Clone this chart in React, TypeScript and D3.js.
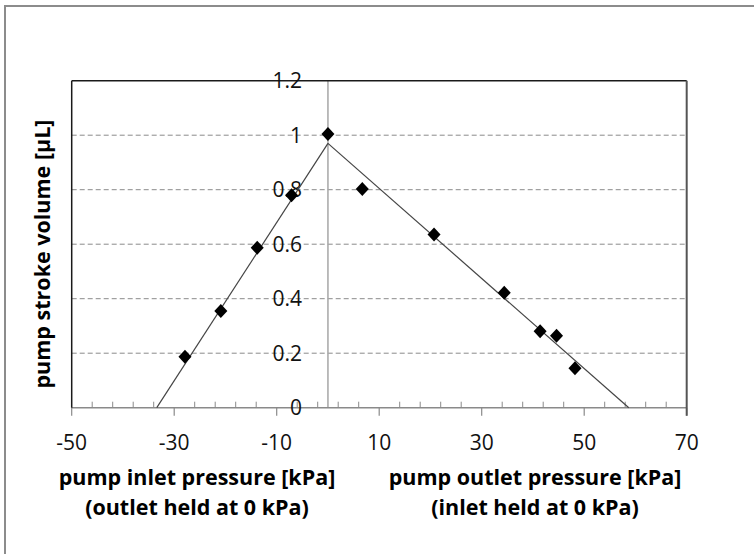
import React from "react";
import * as d3 from "d3";

const inletX = [-27.9, -20.9, -13.8, -7.1, 0];
const inletY = [0.187, 0.355, 0.587, 0.78, 1.004];
const outletX = [6.7, 20.7, 34.4, 41.4, 44.6, 48.2];
const outletY = [0.803, 0.636, 0.422, 0.281, 0.264, 0.145];
const trendInlet: [number, number][] = [[-33.4, 0], [0, 0.97]];
const trendOutlet: [number, number][] = [[0, 0.97], [58.7, 0]];
const xMajorTicks = [-50, -30, -10, 10, 30, 50, 70];
const yTicks = [0, 0.2, 0.4, 0.6, 0.8, 1, 1.2];
const yTickLabels = ["0", "0.2", "0.4", "0.6", "0.8", "1", "1.2"];
const xTitleLeft = ["pump inlet pressure [kPa]", "(outlet held at 0 kPa)"];
const xTitleRight = ["pump outlet pressure [kPa]", "(inlet held at 0 kPa)"];
const yTitle = "pump stroke volume [µL]";

const W = 754, H = 554;
const L = 71.7, R = 686.7, T = 80.7, B = 407.7;

export default function App() {
  const x = d3.scaleLinear().domain([-50, 70]).range([L, R]);
  const y = d3.scaleLinear().domain([0, 1.2]).range([B, T]);
  const minor = d3.range(-50, 70.001, 4).filter((v) => !xMajorTicks.some((m) => Math.abs(m - v) < 1e-6));
  const line = d3.line<[number, number]>().x((d) => x(d[0])).y((d) => y(d[1]));
  const diamond = (cx: number, cy: number) => {
    const r = 7;
    return `M${cx},${cy - r}L${cx + r * 0.93},${cy}L${cx},${cy + r}L${cx - r * 0.93},${cy}Z`;
  };
  const font = "'Open Sans', sans-serif";
  const tickSize = 21;
  const titleSize = 21.5;
  const pts = [
    ...inletX.map((v, i) => [v, inletY[i]]),
    ...outletX.map((v, i) => [v, outletY[i]]),
  ];
  return (
    <div style={{ position: "absolute", left: 0, top: 0 }}>
      <svg width={W} height={H} style={{ display: "block", background: "#fff" }}>
        <rect x={5} y={6} width={900} height={700} fill="#fff" stroke="#8c8c8c" strokeWidth={2} />
        {/* gridlines */}
        {yTicks.filter((t) => t > 0 && t < 1.2).map((t) => (
          <line key={t} x1={L} x2={R} y1={y(t)} y2={y(t)} stroke="#8a8a8a" strokeWidth={1} strokeDasharray="5,3" />
        ))}
        {/* y axis at x=0 */}
        <line x1={x(0)} x2={x(0)} y1={T} y2={B} stroke="#a6a6a6" strokeWidth={1.5} />
        {/* x axis */}
        <line x1={L} x2={R} y1={B} y2={B} stroke="#8a8a8a" strokeWidth={1.5} />
        {xMajorTicks.map((t) => (
          <line key={"M" + t} x1={x(t)} x2={x(t)} y1={B} y2={B + 8} stroke="#8a8a8a" strokeWidth={1.2} />
        ))}
        {minor.map((t) => (
          <line key={"m" + t} x1={x(t)} x2={x(t)} y1={B - 6} y2={B} stroke="#8a8a8a" strokeWidth={1} />
        ))}
        {/* plot border */}
        <line x1={L} x2={R} y1={T} y2={T} stroke="#1a1a1a" strokeWidth={1.5} />
        <line x1={L} x2={L} y1={T} y2={B} stroke="#1a1a1a" strokeWidth={1.5} />
        <line x1={R} x2={R} y1={T} y2={B + 8} stroke="#555" strokeWidth={2} />
        {/* y tick labels */}
        {yTicks.map((t, i) => (
          <text key={"yl" + t} x={302} y={y(t)} dy="0.36em" textAnchor="end" fontFamily={font} fontSize={tickSize} fill="#111">
            {yTickLabels[i]}
          </text>
        ))}
        {/* x tick labels */}
        {xMajorTicks.map((t) => (
          <text key={"xl" + t} x={x(t)} y={450} textAnchor="middle" fontFamily={font} fontSize={tickSize} fill="#111">
            {t}
          </text>
        ))}
        {/* trend lines */}
        <path d={line(trendInlet) || ""} fill="none" stroke="#444" strokeWidth={1.2} />
        <path d={line(trendOutlet) || ""} fill="none" stroke="#444" strokeWidth={1.2} />
        {/* markers */}
        {pts.map((p, i) => (
          <path key={"p" + i} d={diamond(x(p[0]), y(p[1]))} fill="#000" />
        ))}
        {/* titles */}
        {xTitleLeft.map((s, i) => (
          <text key={"tl" + i} x={197} y={485 + i * 30} textAnchor="middle" fontFamily={font} fontWeight="bold" fontSize={titleSize} fill="#000">
            {s}
          </text>
        ))}
        {xTitleRight.map((s, i) => (
          <text key={"tr" + i} x={535} y={485 + i * 30} textAnchor="middle" fontFamily={font} fontWeight="bold" fontSize={titleSize} fill="#000">
            {s}
          </text>
        ))}
        <text transform={`translate(50,254) rotate(-90)`} textAnchor="middle" fontFamily={font} fontWeight="bold" fontSize={titleSize} fill="#000">
          {yTitle}
        </text>
      </svg>
    </div>
  );
}
